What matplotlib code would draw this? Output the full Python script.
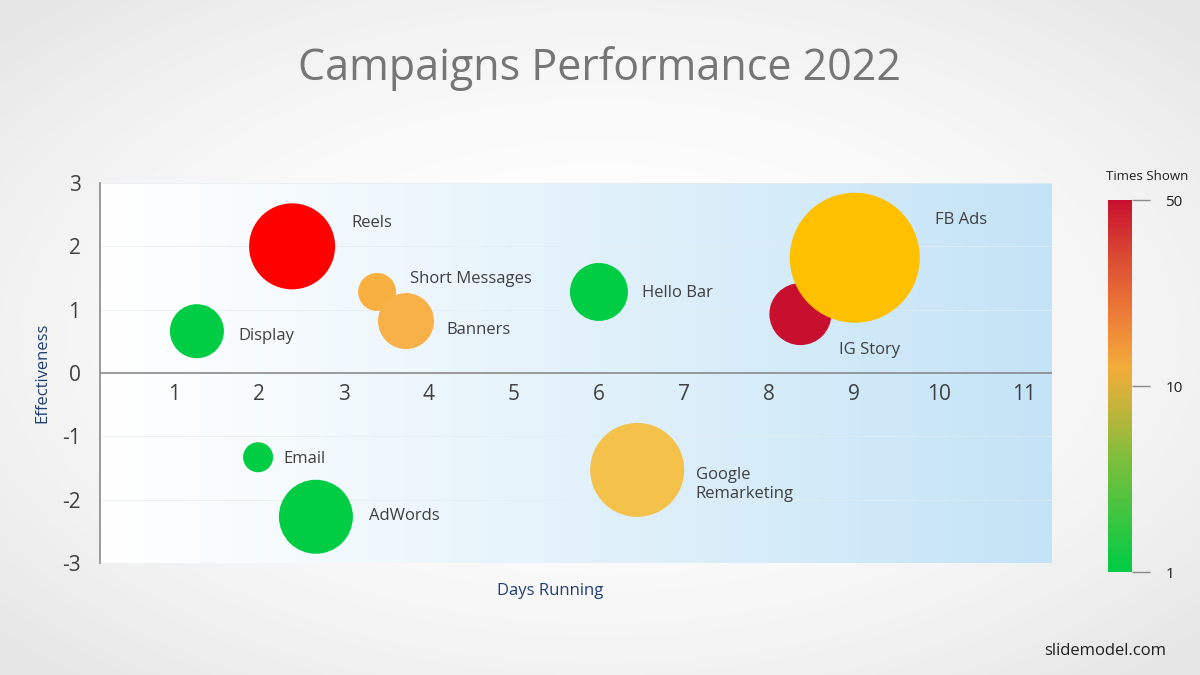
import numpy as np
import matplotlib
matplotlib.use("Agg")
import matplotlib.pyplot as plt
from matplotlib.colors import LinearSegmentedColormap, to_rgb

plt.rcParams['font.family'] = ['Open Sans', 'DejaVu Sans']

# data
names = ["Reels", "Short Messages", "Banners", "Display", "Hello Bar",
         "IG Story", "FB Ads", "Email", "AdWords", "Google\nRemarketing"]
days = [2.39, 3.39, 3.73, 1.27, 6.0, 8.37, 9.01, 1.99, 2.67, 6.45]
effect = [2.0, 1.28, 0.82, 0.66, 1.28, 0.93, 1.82, -1.33, -2.27, -1.53]
bubble = [43, 19, 28, 27, 29, 31, 65, 15, 37, 47]   # relative bubble radius
colors = ["#FF0000", "#F8B040", "#F8B048", "#00CC44", "#00CC44",
          "#C8102E", "#FFC000", "#00CC44", "#00CC44", "#F4C24A"]
yticks = [-3, -2, -1, 0, 1, 2, 3]
xticks = list(range(1, 12))
cbar_labels = ["1", "10", "50"]

# label offsets (points) from bubble centre
offsets = [(43, 16.5), (24, 9.5), (29, -6.5), (30, -3.5), (31, -0.5),
           (28, -25.5), (58, 27.5), (18, -1.5), (38, 0.5), (42, -10.5)]

fig = plt.figure(figsize=(12, 6.75), dpi=100)

# soft vignette background
bg = fig.add_axes([0, 0, 1, 1], zorder=-5)
yy, xx = np.mgrid[-1:1:300j, -1:1:500j]
rr = np.clip(np.sqrt(xx ** 2 + yy ** 2) / 1.35, 0, 1)
c_in, c_out = np.array(to_rgb("#FFFFFF")), np.array(to_rgb("#E6E6E6"))
img = c_in + (c_out - c_in) * (rr[..., None] ** 2.2)
bg.imshow(img, extent=[0, 1, 0, 1], aspect="auto")
bg.axis("off")

ax = fig.add_axes([100 / 1200, 1 - 563 / 675, 952 / 1200, 380 / 675])
ax.set_xlim(0.13, 11.33)
ax.set_ylim(-3, 3)

# plot area gradient white -> light blue
grad = np.linspace(0, 1, 256)[None, :, None]
c0, c1 = np.array(to_rgb("#FFFFFF")), np.array(to_rgb("#C3E3F6"))
ax.imshow(c0 + (c1 - c0) * grad ** 1.1, extent=[0, 1, 0, 1], transform=ax.transAxes,
          aspect="auto", zorder=0)

for y in yticks:
    if y != 0:
        ax.axhline(y, color="#E4ECF2", lw=0.7, alpha=0.7, zorder=1)
ax.axhline(0, color="#8A8A8A", lw=1.2, zorder=2)

sizes = [(1.44 * r) ** 2 for r in bubble]
ax.scatter(days, effect, s=sizes, c=colors, edgecolors="none", zorder=3)

for n, x, y, off in zip(names, days, effect, offsets):
    ax.annotate(n, (x, y), xytext=off, textcoords="offset points", fontsize=12,
                color="#404040", ha="left", va="center", zorder=4, linespacing=1.2)

for spine in ["top", "right", "bottom"]:
    ax.spines[spine].set_visible(False)
ax.spines["left"].set_color("#8A8A8A")
ax.spines["left"].set_linewidth(1.2)

ax.set_yticks(yticks)
ax.set_yticklabels([str(t) for t in yticks])
ax.tick_params(axis="y", length=0, pad=14, labelsize=15, labelcolor="#404040")
ax.set_xticks([])
for t in xticks:
    ax.text(t, -0.34, str(t), ha="center", va="center", fontsize=15, color="#404040", zorder=4)

fig.text(42 / 1200, 1 - 373 / 675, "Effectiveness", rotation=90, ha="center", va="center",
         fontsize=12, color="#1F3F73")
fig.text(550 / 1200, 1 - 591 / 675, "Days Running", ha="center", va="center",
         fontsize=12, color="#1F3F73")
fig.text(0.5, 1 - 69 / 675, "Campaigns Performance 2022", ha="center", va="center",
         fontsize=31, color="#767676")
fig.text(1105 / 1200, 1 - 651 / 675, "slidemodel.com", ha="center", va="center",
         fontsize=12, color="#202020")

# colour scale
cmap = LinearSegmentedColormap.from_list("times", [
    (0.0, "#00CC44"), (0.3, "#7DBF3C"), (0.45, "#C8B43A"), (0.55, "#F4AC3C"),
    (0.7, "#EC7A38"), (0.85, "#DC4A34"), (1.0, "#C8102E")])
cax = fig.add_axes([1108 / 1200, 1 - 572 / 675, 24 / 1200, 372 / 675])
cax.imshow(np.linspace(0, 1, 256)[:, None], cmap=cmap, origin="lower",
           extent=[0, 1, 0, 1], aspect="auto")
cax.set_xticks([])
cax.set_yticks([0, 0.5, 1])
cax.set_yticklabels(cbar_labels)
cax.yaxis.tick_right()
cax.tick_params(axis="y", length=13, width=1, color="#8A8A8A", pad=11,
                labelsize=11, labelcolor="#202020")
for s in cax.spines.values():
    s.set_visible(False)
fig.text(1147 / 1200, 1 - 176 / 675, "Times Shown", ha="center", va="center",
         fontsize=9.5, color="#202020")

fig.savefig("out.png", dpi=100)
